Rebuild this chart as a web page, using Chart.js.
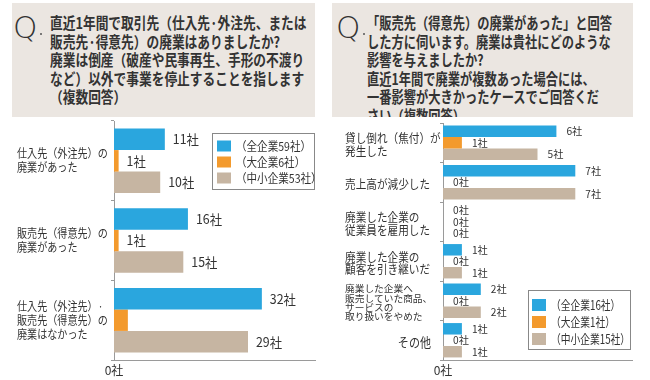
<!DOCTYPE html>
<html lang="ja">
<head>
<meta charset="utf-8">
<script src="https://cdn.jsdelivr.net/npm/chart.js@4.4.0/dist/chart.umd.min.js"></script>
<style>
  body { margin: 0; background: #fff; font-family: "Noto Sans CJK JP", sans-serif; color: #333; }
  #wrap { position: relative; width: 650px; height: 380px; overflow: hidden; }
  .qbox { position: absolute; top: 3px; height: 114px; background: #ebe6e1; overflow: hidden; }
  .q { position: absolute; top: 4px; font-family: "DejaVu Sans"; font-weight: 200; font-size: 31px; line-height: 40px; color: #333; }
  .qdot { position: absolute; width: 2px; height: 2px; background: #555; border-radius: 1px; }
  .qtext { position: absolute; top: 10px; white-space: nowrap; font-weight: bold; font-size: 15.5px; line-height: 18.6px; transform-origin: 0 0; color: #333; }
  canvas { position: absolute; top: 118px; }
</style>
</head>
<body>
<div id="wrap">
  <div class="qbox" style="left:12px; width:303px;">
    <div class="q" style="left:1px;">Q</div>
    <div class="qdot" style="left:28px; top:30px;"></div>
    <div class="qtext" style="left:38px; transform:scaleX(0.82);">
      直近1年間で取引先（仕入先·外注先、または<br>
      販売先·得意先）の廃業はありましたか?<br>
      廃業は倒産（破産や民事再生、手形の不渡り<br>
      など）以外で事業を停止することを指します<br>
      （複数回答）
    </div>
  </div>
  <div class="qbox" style="left:332px; width:301px;">
    <div class="q" style="left:4px;">Q</div>
    <div class="qdot" style="left:31px; top:30px;"></div>
    <div class="qtext" style="left:35px; transform:scaleX(0.79);">
      「販売先（得意先）の廃業があった」と回答<br>
      した方に伺います。廃業は貴社にどのような<br>
      影響を与えましたか?<br>
      直近1年間で廃業が複数あった場合には、<br>
      一番影響が大きかったケースでご回答くだ<br>
      さい（複数回答）
    </div>
  </div>
  <canvas id="leftChart" width="325" height="262" style="left:0px;"></canvas>
  <canvas id="rightChart" width="325" height="262" style="left:325px;"></canvas>
</div>

<script>
// Left chart data
const leftCategories = [
    ['仕入先（外注先）の', '廃業があった'],
    ['販売先（得意先）の', '廃業があった'],
    ['仕入先（外注先）·', '販売先（得意先）の', '廃業はなかった']
];
const leftAll = [11, 16, 32];
const leftLarge = [1, 1, 3];
const leftSmall = [10, 15, 29];
const leftLegend = ['（全企業59社）', '（大企業6社）', '（中小企業53社）'];

// Right chart data
const rightCategories = [
    ['貸し倒れ（焦付）が', '発生した'],
    ['売上高が減少した'],
    ['廃業した企業の', '従業員を雇用した'],
    ['廃業した企業の', '顧客を引き継いだ'],
    ['廃業した企業へ', '販売していた商品、', 'サービスの', '取り扱いをやめた'],
    ['その他']
];
const rightAll = [6, 7, 0, 1, 2, 1];
const rightLarge = [1, 0, 0, 0, 0, 0];
const rightSmall = [5, 7, 0, 1, 2, 1];
const rightLegend = ['（全企業16社）', '（大企業1社）', '（中小企業15社）'];

const colors = ['#2aa6de', '#f39a2d', '#c6b5a2'];
const FONT = '"Noto Sans CJK JP", sans-serif';
Chart.defaults.font.family = FONT;
Chart.defaults.color = '#333';

function drawText(ctx, text, x, y, size, sx, align) {
    ctx.save();
    ctx.font = size + 'px ' + FONT;
    ctx.fillStyle = '#333';
    ctx.textBaseline = 'middle';
    ctx.textAlign = align || 'left';
    ctx.translate(x, y);
    ctx.scale(sx, 1);
    ctx.fillText(text, 0, 0);
    ctx.restore();
}

// Category labels, value labels and the boxed legend
const extrasPlugin = {
    id: 'extras',
    afterDraw(chart, args, o) {
        const ctx = chart.ctx;
        const yScale = chart.scales.y;

        // category labels
        o.categories.forEach((lines, i) => {
            const st = Object.assign({}, o.cat, (o.catOverride || {})[i]);
            const cy = yScale.getPixelForValue(i) + st.dy;
            const top = cy - (lines.length - 1) * st.lh / 2;
            lines.forEach((line, k) => {
                drawText(ctx, line, st.x, top + k * st.lh, st.size, st.sx, st.align);
            });
        });

        // value labels
        chart.data.datasets.forEach((ds, di) => {
            chart.getDatasetMeta(di).data.forEach((bar, i) => {
                if ((o.skip || []).some(s => s[0] === di && s[1] === i)) return;
                drawText(ctx, ds.data[i] + '社', bar.x + o.val.dx, bar.y, o.val.size, o.val.sx, 'left');
            });
        });

        // legend
        const L = o.legend;
        ctx.save();
        ctx.fillStyle = '#fff';
        ctx.fillRect(L.x, L.y, L.w, L.h);
        ctx.strokeStyle = '#888';
        ctx.lineWidth = 1;
        ctx.strokeRect(L.x + 0.5, L.y + 0.5, L.w - 1, L.h - 1);
        ctx.restore();
        chart.data.datasets.forEach((ds, di) => {
            const ry = L.y + L.first + di * L.gap;
            ctx.fillStyle = ds.backgroundColor;
            ctx.fillRect(L.x + L.sxOff, ry - L.sh / 2, L.sw, L.sh);
            drawText(ctx, ds.label, L.x + L.txOff, ry, L.size, L.tsx, 'left');
        });
    }
};

function makeChart(id, cats, all, large, small, legend, s) {
    return new Chart(document.getElementById(id), {
        type: 'bar',
        data: {
            labels: cats.map(c => c.join('')),
            datasets: [
                { label: legend[0], data: all, backgroundColor: colors[0] },
                { label: legend[1], data: large, backgroundColor: colors[1] },
                { label: legend[2], data: small, backgroundColor: colors[2] }
            ]
        },
        options: {
            indexAxis: 'y',
            responsive: false,
            animation: false,
            categoryPercentage: s.catPct,
            barPercentage: 1,
            layout: { padding: { top: s.padTop, right: s.padRight, left: 0, bottom: 0 } },
            scales: {
                x: {
                    min: 0,
                    max: s.xMax,
                    grid: { display: false, drawTicks: false },
                    border: { color: '#9a9a9a' },
                    afterBuildTicks: sc => { sc.ticks = [{ value: 0 }]; },
                    ticks: { callback: v => v + '社', font: { size: 12 }, color: '#333', padding: 3, maxRotation: 0 },
                    afterFit: sc => { sc.height = s.xHeight; }
                },
                y: {
                    grid: { drawOnChartArea: false, tickLength: 3, color: '#9a9a9a' },
                    border: { color: '#9a9a9a' },
                    ticks: { display: false },
                    afterFit: sc => { sc.width = s.yWidth; }
                }
            },
            plugins: {
                legend: { display: false },
                tooltip: { enabled: false },
                extras: {
                    categories: cats,
                    cat: s.cat,
                    catOverride: s.catOverride,
                    val: s.val,
                    skip: s.skip,
                    legend: s.legend
                }
            }
        },
        plugins: [extrasPlugin]
    });
}

makeChart('leftChart', leftCategories, leftAll, leftLarge, leftSmall, leftLegend, {
    catPct: 0.81, padTop: 3, padRight: 10, xMax: 43.5, xHeight: 20, yWidth: 114,
    cat: { x: 17, size: 12, sx: 0.84, lh: 14, align: 'left', dy: 0 },
    val: { dx: 8, size: 13, sx: 0.95 },
    skip: [[1, 2]],
    legend: { x: 212, y: 15, w: 103, h: 57, first: 13, gap: 16, sxOff: 5, sw: 14, sh: 11, txOff: 24, size: 12, tsx: 0.88 }
});

makeChart('rightChart', rightCategories, rightAll, rightLarge, rightSmall, rightLegend, {
    catPct: 0.87, padTop: 5, padRight: 18, xMax: 10, xHeight: 20, yWidth: 118,
    cat: { x: 20, size: 12.5, sx: 0.85, lh: 12.5, align: 'left', dy: 2 },
    catOverride: { 4: { size: 9.5, sx: 1.02, lh: 9.3 }, 5: { align: 'right', x: 106, size: 13 } },
    val: { dx: 10, size: 10.5, sx: 0.97 },
    skip: [],
    legend: { x: 203, y: 172, w: 103, h: 60, first: 15, gap: 17, sxOff: 4, sw: 14, sh: 12, txOff: 23, size: 12.5, tsx: 0.78 }
});
</script>
</body>
</html>
